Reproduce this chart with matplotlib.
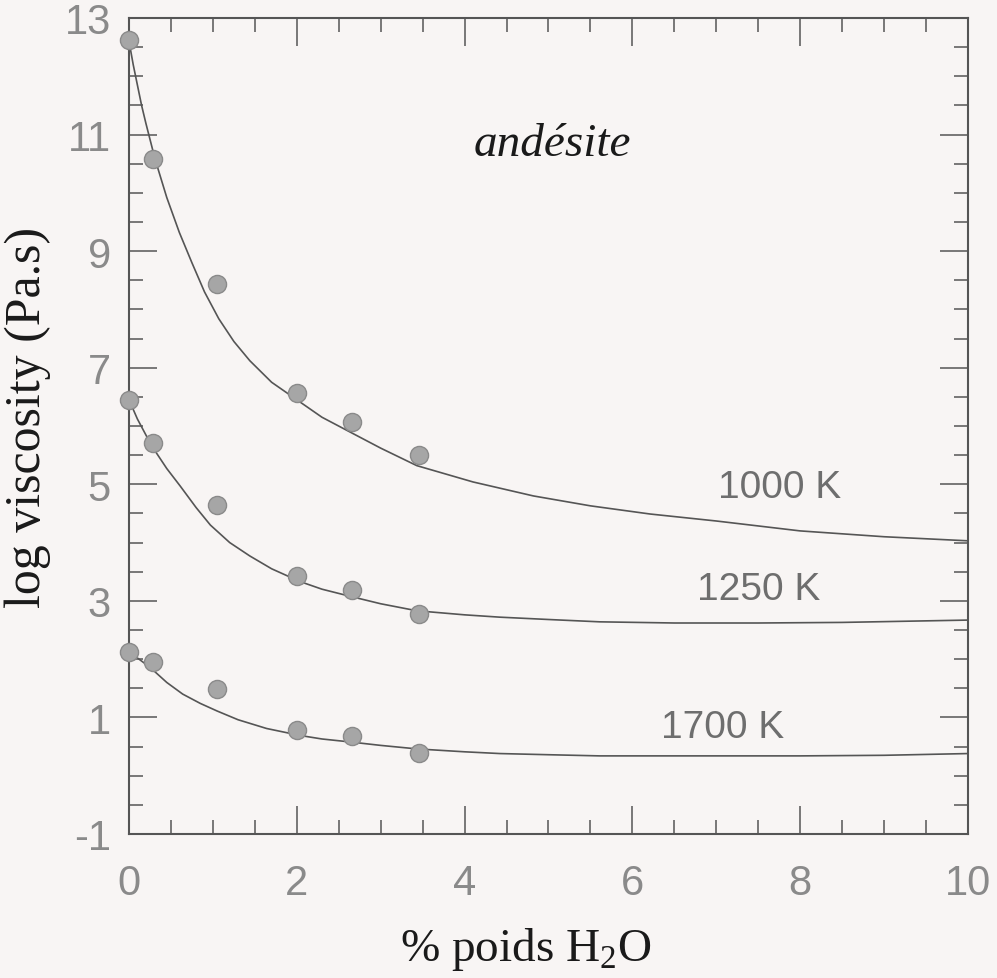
import matplotlib
matplotlib.use("Agg")
import matplotlib.pyplot as plt

plt.rcParams['axes.unicode_minus'] = False

# === data ===
# measured points (% H2O, log viscosity)
pts_x = [0.0, 0.29, 1.05, 2.0, 2.66, 3.46]
pts_1000 = [12.62, 10.58, 8.44, 6.57, 6.07, 5.50]
pts_1250 = [6.45, 5.71, 4.65, 3.43, 3.19, 2.78]
pts_1700 = [2.13, 1.95, 1.49, 0.79, 0.68, 0.39]

# fitted curves
cx_1000 = [0.0, 0.05, 0.1, 0.15, 0.2, 0.31, 0.45, 0.6, 0.75, 0.9, 1.07, 1.25, 1.44, 1.7,
           2.04, 2.3, 2.63, 3.0, 3.43, 4.1, 4.82, 5.5, 6.21, 7.0, 8.0, 9.0, 10.0]
cy_1000 = [12.6, 12.2, 11.85, 11.5, 11.2, 10.58, 9.92, 9.32, 8.8, 8.3, 7.84, 7.45, 7.12, 6.75,
           6.41, 6.15, 5.90, 5.62, 5.32, 5.04, 4.80, 4.63, 4.49, 4.37, 4.2, 4.1, 4.03]
cx_1250 = [0.0, 0.1, 0.27, 0.45, 0.61, 0.8, 0.97, 1.2, 1.44, 1.7, 2.04, 2.3,
           2.63, 3.0, 3.43, 4.0, 4.42, 5.0, 5.61, 6.5, 7.5, 8.5, 10.0]
cy_1250 = [6.45, 6.12, 5.66, 5.27, 4.97, 4.6, 4.3, 4.0, 3.77, 3.55, 3.33, 3.2,
           3.08, 2.95, 2.83, 2.76, 2.72, 2.68, 2.64, 2.62, 2.62, 2.63, 2.67]
cx_1700 = [0.0, 0.1, 0.25, 0.45, 0.64, 0.85, 1.05, 1.3, 1.64, 2.04, 2.3, 2.63,
           3.0, 3.43, 4.0, 4.42, 5.0, 5.61, 7.0, 8.0, 9.0, 10.0]
cy_1700 = [2.13, 2.02, 1.86, 1.6, 1.4, 1.24, 1.11, 0.96, 0.81, 0.69, 0.63, 0.58,
           0.52, 0.46, 0.41, 0.38, 0.36, 0.34, 0.34, 0.34, 0.35, 0.38]

labels = ["1000 K", "1250 K", "1700 K"]
label_pos = [(7.76, 4.96), (7.5, 3.2), (7.07, 0.84)]

# === figure ===
bg = "#f8f5f4"
ink = "#555555"
fig = plt.figure(figsize=(9.97, 9.79), dpi=100, facecolor=bg)
ax = fig.add_axes([0.1294, 0.1471, 0.9709 - 0.1294, 0.9806 - 0.1471])
ax.set_facecolor(bg)

for cx, cy in [(cx_1000, cy_1000), (cx_1250, cy_1250), (cx_1700, cy_1700)]:
    ax.plot(cx, cy, color=ink, lw=1.2, zorder=2)

for py in [pts_1000, pts_1250, pts_1700]:
    ax.scatter(pts_x, py, s=170, color="#a6a6a6", edgecolor="#8a8a8a",
               linewidth=1.0, zorder=3, clip_on=False)

for txt, (tx, ty) in zip(labels, label_pos):
    ax.text(tx, ty, txt, ha="center", va="center", fontsize=28,
            family="Liberation Sans", color="#6e6e6e")

ax.text(5.05, 10.84, "andésite", ha="center", va="center", fontsize=34,
        family="Liberation Serif", style="italic", color="#1a1a1a")

ax.set_xlim(0, 10)
ax.set_ylim(-1, 13)
ax.set_xticks(range(0, 11, 2))
ax.set_yticks(range(-1, 14, 2))
ax.set_xticks([i * 0.5 for i in range(21)], minor=True)
ax.set_yticks([-1 + i * 0.5 for i in range(29)], minor=True)
ax.tick_params(which="both", direction="in", top=True, right=True,
               color=ink, width=1.1)
ax.tick_params(which="major", length=20)
ax.tick_params(which="minor", length=10)
ax.tick_params(axis="x", which="major", pad=21)
ax.tick_params(axis="y", which="major", pad=13)
for lab in ax.get_xticklabels() + ax.get_yticklabels():
    lab.set_family("Liberation Sans")
    lab.set_fontsize(30)
    lab.set_color("#8a8a8a")
for sp in ax.spines.values():
    sp.set_color(ink)
    sp.set_linewidth(1.5)

ax.set_xlabel("% poids H$_\\mathregular{2}$O", family="Liberation Serif",
              fontsize=34, color="#1a1a1a")
ax.xaxis.set_label_coords(0.473, -0.112)
ax.set_ylabel("log viscosity (Pa.s)", family="Liberation Serif",
              fontsize=36, color="#1a1a1a")
ax.yaxis.set_label_coords(-0.093, 0.512)

fig.savefig("out.png", dpi=100, facecolor=bg)
